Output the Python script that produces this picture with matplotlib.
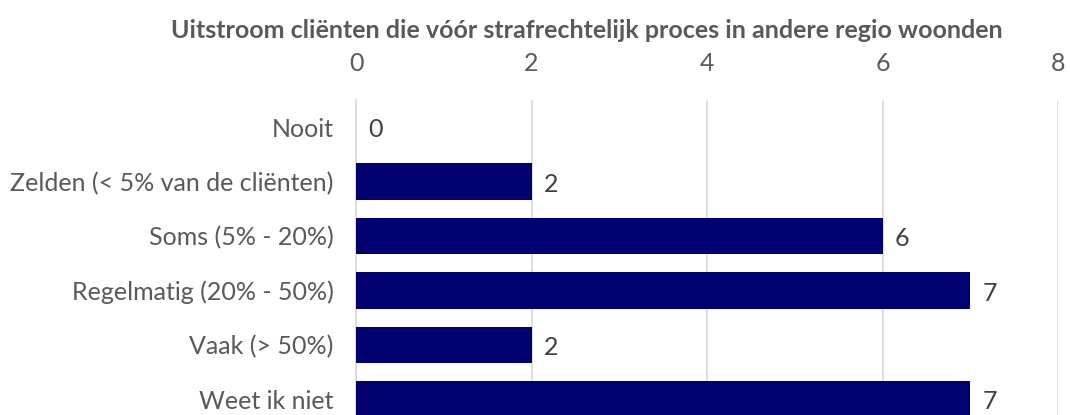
import matplotlib
matplotlib.use('Agg')
import matplotlib.pyplot as plt

categories = ['Nooit', 'Zelden (< 5% van de cliënten)', 'Soms (5% - 20%)',
              'Regelmatig (20% - 50%)', 'Vaak (> 50%)', 'Weet ik niet']
values = [0, 2, 6, 7, 2, 7]
ticks = [0, 2, 4, 6, 8]
title = 'Uitstroom cliënten die vóór strafrechtelijk proces in andere regio woonden'

plt.rcParams['font.family'] = ['Lato', 'DejaVu Sans']
grey = '#595959'

fig = plt.figure(figsize=(10.7, 4.15), dpi=100)
ax = fig.add_axes([356 / 1070, 1 - 426.4 / 415, 702 / 1070, 326.4 / 415])

y = list(range(len(categories)))
ax.barh(y, values, height=0.67, color='#000070', zorder=3)
for yi, v in zip(y, values):
    ax.text(v + 0.14, yi + 0.05, str(v), va='center', ha='left', fontsize=18, color='#404040')

ax.set_xlim(0, 8)
ax.set_ylim(5.5, -0.5)
ax.set_xticks(ticks)
ax.set_yticks(y)
ax.set_yticklabels(categories)
ax.xaxis.tick_top()
ax.tick_params(axis='x', length=0, pad=18, labelsize=18, labelcolor=grey)
ax.tick_params(axis='y', length=0, pad=16, labelsize=18, labelcolor=grey)
ax.grid(axis='x', color='#d9d9d9', linewidth=1.2, zorder=0)
for s in ['top', 'right', 'bottom']:
    ax.spines[s].set_visible(False)
ax.spines['left'].set_color('#d9d9d9')
ax.spines['left'].set_linewidth(1.2)

fig.text(587 / 1070, 1 - 30 / 415, title, ha='center', va='center',
         fontsize=18, fontweight='bold', color=grey)

fig.savefig('out.png', dpi=100)
